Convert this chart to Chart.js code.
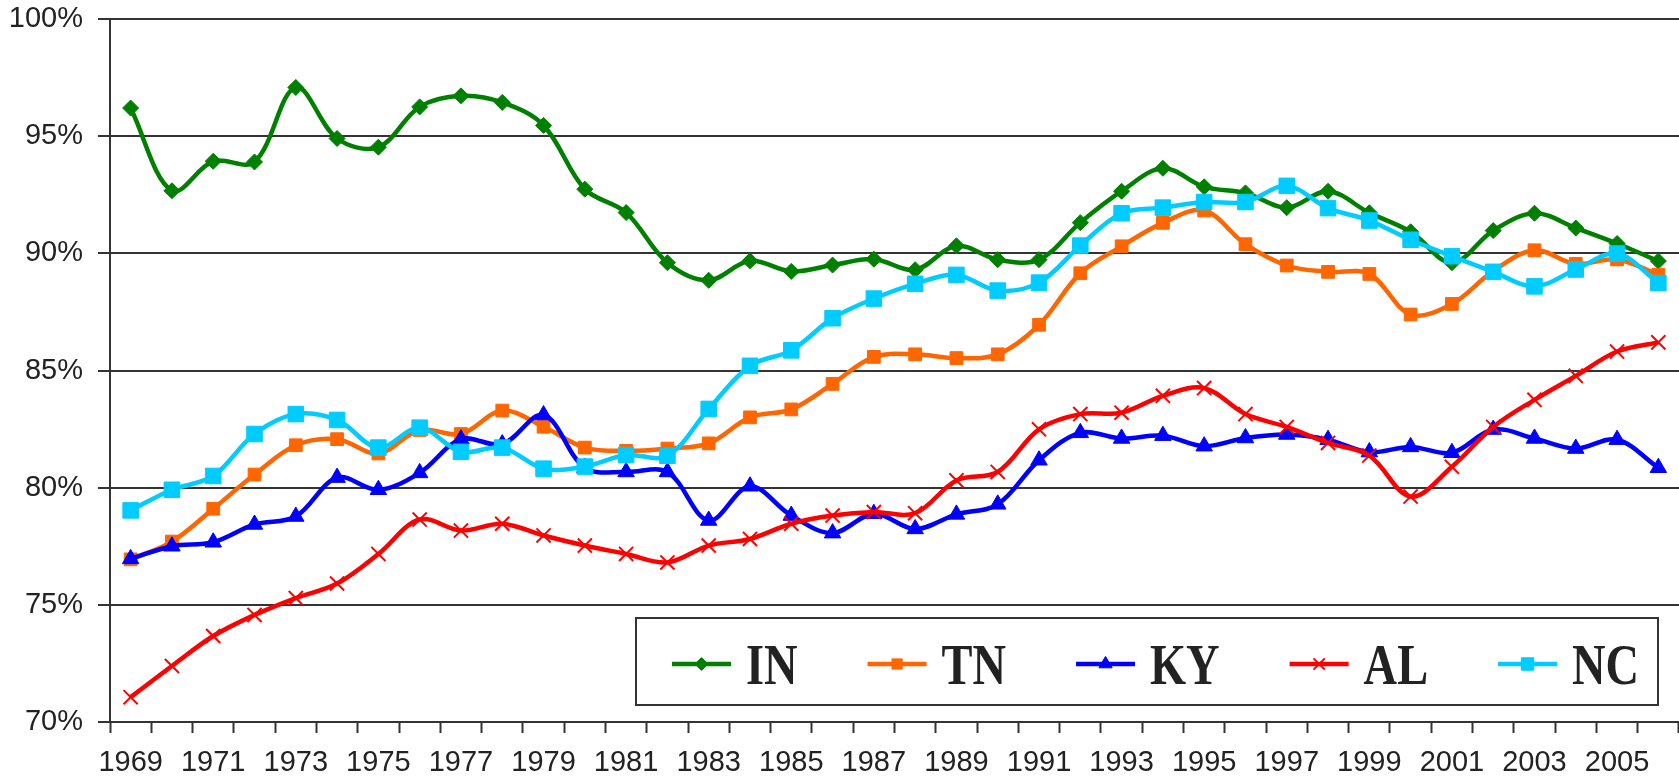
<!DOCTYPE html>
<html>
<head>
<meta charset="utf-8">
<script src="https://cdn.jsdelivr.net/npm/chart.js@4.4.0/dist/chart.umd.min.js"></script>
<style>
  html, body { margin: 0; padding: 0; background: #fff; overflow: hidden; }
  #wrap { position: relative; width: 1679px; height: 784px; }
</style>
</head>
<body>
<div id="wrap"><canvas id="c"></canvas></div>
<script>
const years = ['1969','1970','1971','1972','1973','1974','1975','1976','1977','1978',
  '1979','1980','1981','1982','1983','1984','1985','1986','1987','1988',
  '1989','1990','1991','1992','1993','1994','1995','1996','1997','1998',
  '1999','2000','2001','2002','2003','2004','2005','2006'];

const xTickLabels = ['1969','1971','1973','1975','1977','1979','1981','1983','1985','1987',
  '1989','1991','1993','1995','1997','1999','2001','2003','2005'];

const yTickValues = [70, 75, 80, 85, 90, 95, 100];

const seriesNames = ['IN', 'TN', 'KY', 'AL', 'NC'];

const inValues = [96.2, 92.67, 93.93, 93.9, 97.08, 94.9, 94.53, 96.25, 96.72, 96.44,
  95.46, 92.74, 91.74, 89.6, 88.85, 89.68, 89.23, 89.5, 89.75, 89.3,
  90.32, 89.73, 89.73, 91.31, 92.65, 93.63, 92.84, 92.58, 91.95, 92.65,
  91.73, 90.92, 89.6, 90.97, 91.71, 91.08, 90.42, 89.67];

const tnValues = [76.94, 77.7, 79.1, 80.56, 81.81, 82.07, 81.46, 82.46, 82.29, 83.29,
  82.6, 81.71, 81.57, 81.67, 81.89, 83.0, 83.34, 84.43, 85.58, 85.69,
  85.53, 85.69, 86.95, 89.15, 90.3, 91.3, 91.83, 90.39, 89.48, 89.21,
  89.12, 87.39, 87.84, 89.24, 90.13, 89.55, 89.74, 89.09];

const kyValues = [76.96, 77.5, 77.67, 78.43, 78.77, 80.43, 79.91, 80.63, 82.07, 81.86,
  83.1, 80.85, 80.67, 80.67, 78.6, 80.06, 78.81, 78.06, 78.89, 78.24,
  78.86, 79.29, 81.17, 82.34, 82.1, 82.22, 81.77, 82.12, 82.27, 82.05,
  81.52, 81.74, 81.49, 82.48, 82.1, 81.67, 82.05, 80.85];

const alValues = [71.06, 72.39, 73.67, 74.57, 75.29, 75.91, 77.17, 78.64, 78.17, 78.46,
  77.96, 77.53, 77.17, 76.81, 77.53, 77.81, 78.46, 78.81, 78.96, 78.91,
  80.31, 80.67, 82.49, 83.14, 83.2, 83.92, 84.25, 83.14, 82.59, 81.91,
  81.37, 79.62, 80.89, 82.59, 83.75, 84.77, 85.81, 86.2];

const ncValues = [79.03, 79.91, 80.5, 82.29, 83.14, 82.89, 81.71, 82.56, 81.53, 81.71,
  80.81, 80.9, 81.39, 81.36, 83.36, 85.2, 85.86, 87.23, 88.07, 88.7,
  89.08, 88.41, 88.75, 90.33, 91.71, 91.95, 92.19, 92.19, 92.88, 91.93,
  91.4, 90.58, 89.88, 89.21, 88.59, 89.31, 89.99, 88.73];

const seriesColors = ['#008000', '#FF6600', '#0000FF', '#FF0000', '#00CCFF'];
const seriesMarkers = ['rectRot', 'rect', 'triangle', 'crossRot', 'rect'];
const markerRadius = [8, 9, 9.5, 10, 11];
const seriesData = [inValues, tnValues, kyValues, alValues, ncValues];

const datasets = seriesNames.map((name, i) => ({
  label: name,
  data: seriesData[i],
  borderColor: seriesColors[i],
  backgroundColor: seriesColors[i],
  pointBackgroundColor: seriesColors[i],
  pointBorderColor: seriesColors[i],
  pointStyle: seriesMarkers[i],
  pointRadius: markerRadius[i],
  pointBorderWidth: seriesMarkers[i] === 'crossRot' ? 2 : 1,
  borderWidth: 4.5,
  tension: 0.35,
  fill: false,
  order: seriesNames.length - 1 - i
}));

const tickFont = { family: "'Liberation Sans', Arial, sans-serif", size: 29 };

// Boxed legend drawn inside the plot area, like the original
const boxedLegend = {
  id: 'boxedLegend',
  afterDraw(chart) {
    const ctx = chart.ctx;
    const box = { left: 636, top: 618, right: 1658, bottom: 705 };
    ctx.save();
    ctx.fillStyle = '#ffffff';
    ctx.fillRect(box.left, box.top, box.right - box.left, box.bottom - box.top);
    ctx.strokeStyle = '#333333';
    ctx.lineWidth = 2;
    ctx.strokeRect(box.left, box.top, box.right - box.left, box.bottom - box.top);

    const cy = 664;
    const lineLen = 59;
    const textOffset = 74;
    const gap = 70;
    const sx = 0.8;
    let x = box.left + 36;
    ctx.font = "bold 58px 'Liberation Serif', 'Times New Roman', serif";
    chart.data.datasets.forEach((ds) => {
      ctx.strokeStyle = ds.borderColor;
      ctx.lineWidth = 4.5;
      ctx.beginPath();
      ctx.moveTo(x, cy);
      ctx.lineTo(x + lineLen, cy);
      ctx.stroke();
      ctx.fillStyle = ds.pointBackgroundColor;
      ctx.strokeStyle = ds.pointBorderColor;
      ctx.lineWidth = ds.pointBorderWidth;
      if (Chart.helpers && Chart.helpers.drawPoint) {
        Chart.helpers.drawPoint(ctx, {
          pointStyle: ds.pointStyle,
          radius: ds.pointRadius * 0.8,
          rotation: 0,
          borderWidth: ds.pointBorderWidth
        }, x + lineLen / 2, cy);
      }
      ctx.fillStyle = '#222222';
      ctx.textBaseline = 'alphabetic';
      ctx.textAlign = 'left';
      const tx = x + textOffset;
      ctx.save();
      ctx.translate(tx, 684);
      ctx.scale(sx, 1);
      ctx.fillText(ds.label, 0, 0);
      ctx.restore();
      const w = ctx.measureText(ds.label).width * sx;
      x = tx + w + gap;
    });
    ctx.restore();
  }
};

new Chart(document.getElementById('c'), {
  type: 'line',
  data: { labels: years, datasets: datasets },
  options: {
    responsive: true,
    maintainAspectRatio: false,
    animation: false,
    devicePixelRatio: 1,
    layout: { autoPadding: false, padding: { top: 19, right: -3, left: 0, bottom: 0 } },
    plugins: {
      legend: { display: false },
      title: { display: false },
      tooltip: { enabled: false }
    },
    scales: {
      x: {
        type: 'category',
        offset: true,
        grid: {
          offset: true,
          drawOnChartArea: false,
          drawTicks: true,
          tickLength: 11,
          tickColor: '#333333',
          tickWidth: 2
        },
        border: { display: true, color: '#333333', width: 2 },
        ticks: {
          autoSkip: false,
          maxRotation: 0,
          minRotation: 0,
          padding: 13,
          color: '#222222',
          font: tickFont,
          callback: function (value, index) {
            const lbl = years[index];
            return xTickLabels.includes(lbl) ? lbl : '';
          }
        },
        afterFit: function (scale) {
          scale.height = 62;
          scale.paddingLeft = 0;
          scale.paddingRight = 0;
        }
      },
      y: {
        min: yTickValues[0],
        max: yTickValues[yTickValues.length - 1],
        afterBuildTicks: function (scale) {
          scale.ticks = yTickValues.map(v => ({ value: v }));
        },
        grid: {
          color: '#333333',
          lineWidth: 2,
          drawTicks: true,
          tickLength: 12,
          tickColor: '#333333'
        },
        border: { display: true, color: '#333333', width: 2 },
        ticks: {
          padding: 15,
          color: '#222222',
          font: tickFont,
          callback: function (value) { return value + '%'; }
        },
        afterFit: function (scale) {
          scale.width = 110;
          scale.paddingTop = 0;
          scale.paddingBottom = 0;
        }
      }
    }
  },
  plugins: [boxedLegend]
});
</script>
</body>
</html>
